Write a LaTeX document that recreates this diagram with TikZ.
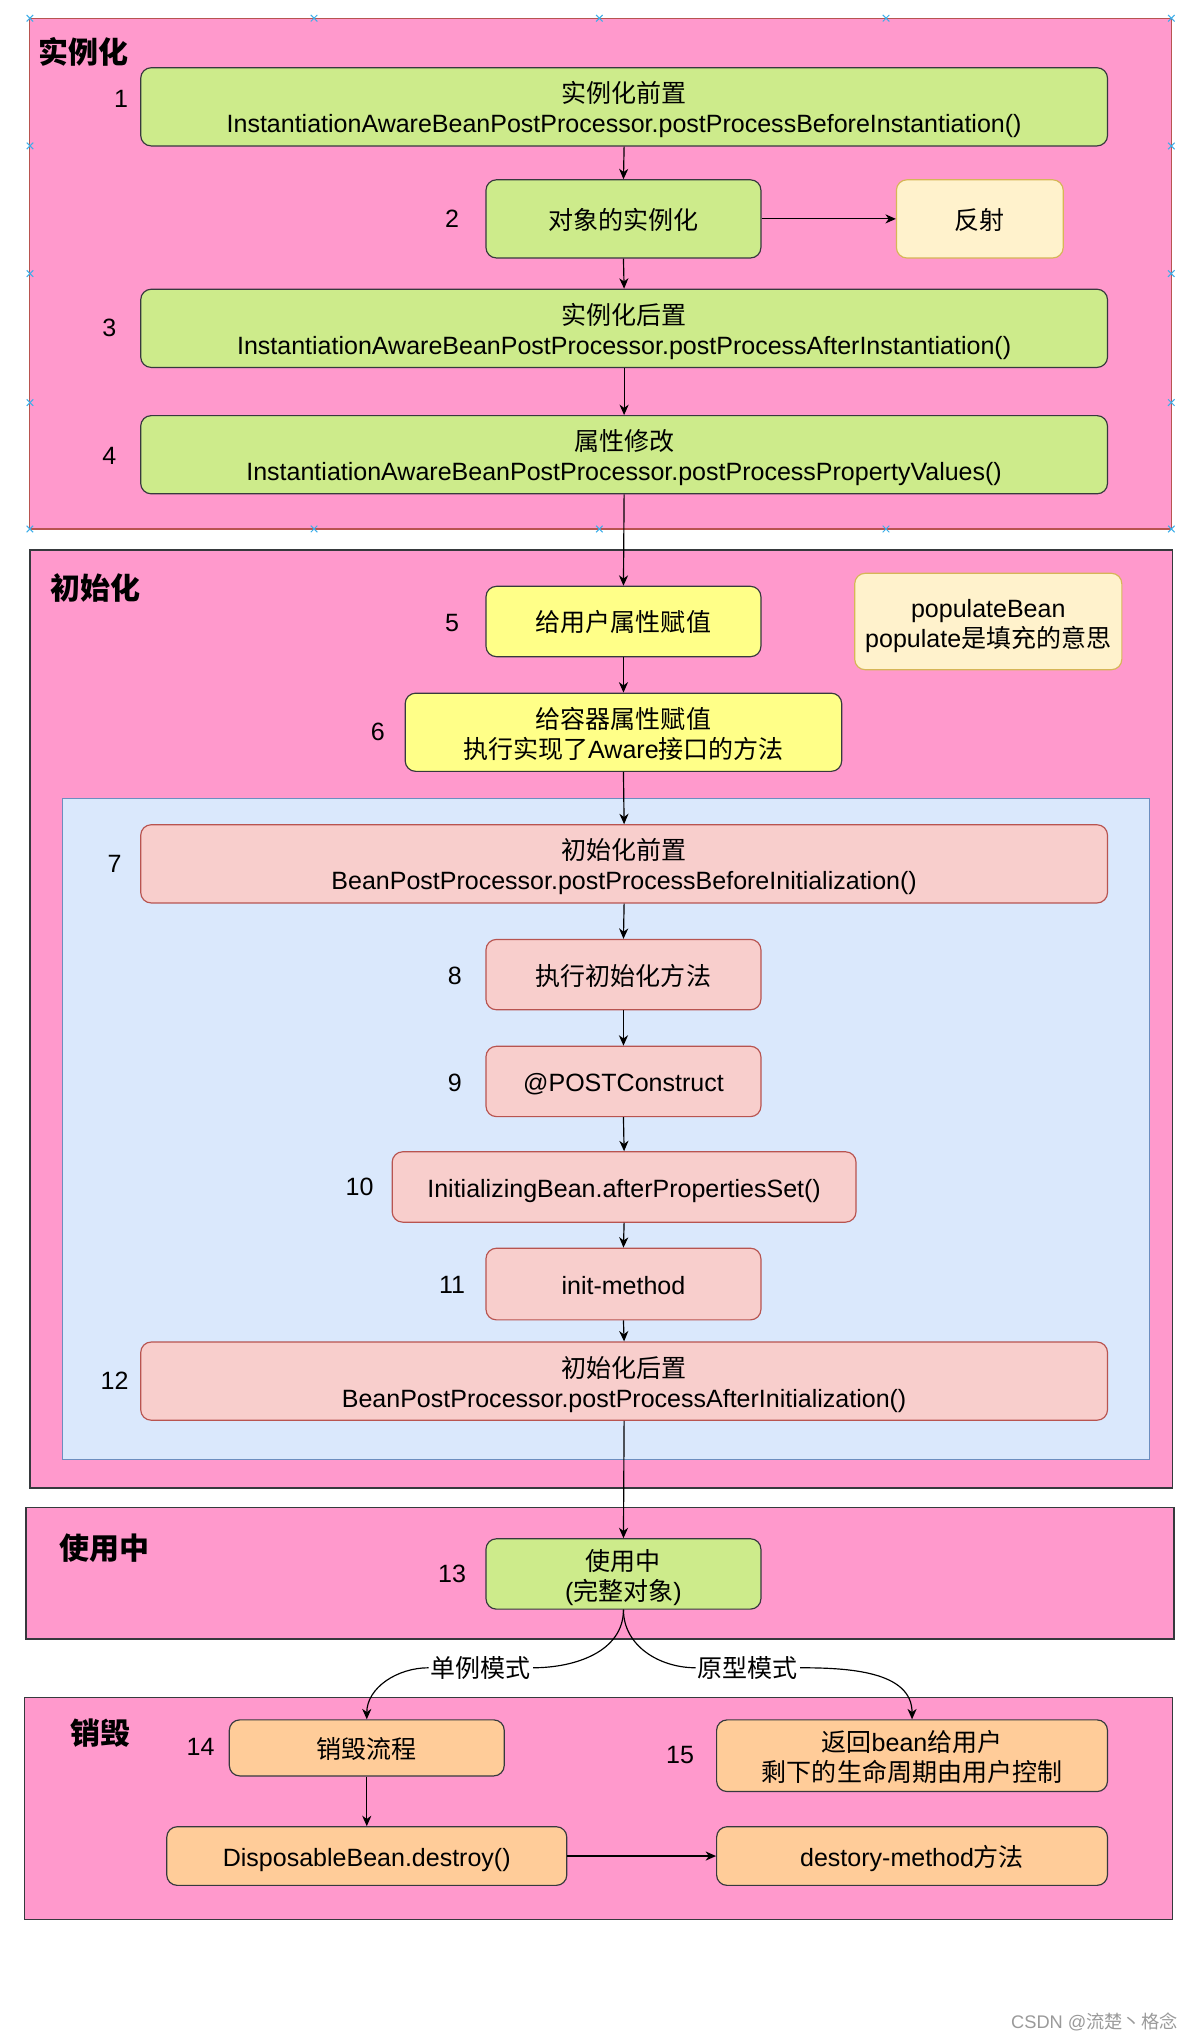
\documentclass[tikz,border=0pt]{standalone}
\usepackage{fontspec}
\setmainfont{Liberation Sans}
\newfontfamily\cjk{Noto Sans CJK SC}
\usetikzlibrary{arrows.meta}
\definecolor{pinkbg}{HTML}{FF99CC}
\definecolor{redstroke}{HTML}{B85450}
\definecolor{darkstroke}{HTML}{36393D}
\definecolor{gfill}{HTML}{CDEB8B}
\definecolor{yfill}{HTML}{FFFF88}
\definecolor{cfill}{HTML}{FFF2CC}
\definecolor{cstroke}{HTML}{D6B656}
\definecolor{rfill}{HTML}{F8CECC}
\definecolor{bfill}{HTML}{DAE8FC}
\definecolor{bstroke}{HTML}{6C8EBF}
\definecolor{ofill}{HTML}{FFCC99}
\definecolor{mkcol}{HTML}{3BAEEA}
\definecolor{wmcol}{HTML}{9A9A9A}
\newcommand\sst{\rule[-4pt]{0pt}{24pt}}
\newcommand\sta{\rule[-4pt]{0pt}{25pt}}
\newcommand\stb{\rule[-4pt]{0pt}{4pt}}
\begin{document}
\begin{tikzpicture}[x=1pt,y=-1pt,
  sz/.style 2 args={minimum width=#1pt,minimum height=#2pt},
  txt/.style={font=\fontsize{19.2}{23}\selectfont},
  nodebase/.style={txt,rounded corners=8pt,inner sep=0pt,align=center,line width=0.9pt},
  gnode/.style={nodebase,fill=gfill,draw=darkstroke},
  ynode/.style={nodebase,fill=yfill,draw=darkstroke},
  cnode/.style={nodebase,fill=cfill,draw=cstroke},
  rnode/.style={nodebase,fill=rfill,draw=redstroke},
  onode/.style={nodebase,fill=ofill,draw=darkstroke},
  region/.style={inner sep=0pt,fill=pinkbg,draw=darkstroke,line width=1.1pt},
  title/.style={font=\cjk\bfseries\fontsize{23}{26}\selectfont,inner sep=0pt},
  num/.style={txt,inner sep=0pt},
  lab/.style={txt,fill=white,inner sep=1.5pt},
  arr/.style={-{Stealth[length=8pt,width=7pt,inset=2.5pt]},line width=0.9pt},
  plain/.style={line width=0.9pt},
  mk/.style={draw=mkcol,line width=0.8pt}
]
\useasboundingbox (0,0) rectangle (919,1568);
\fill[white] (0,0) rectangle (919,1568);

% regions
\node[region,draw=redstroke,line width=0.8pt,sz={876}{392}] (rA) at (461,210) {};
\foreach \x in {23,241,460,680,899}{
  \path[mk] (\x,14) +(-2.5,-2.5) edge +(2.5,2.5) +(-2.5,2.5) edge +(2.5,-2.5);
  \path[mk] (\x,406) +(-2.5,-2.5) edge +(2.5,2.5) +(-2.5,2.5) edge +(2.5,-2.5);
}
\foreach \y in {112,210,309}{
  \path[mk] (23,\y) +(-2.5,-2.5) edge +(2.5,2.5) +(-2.5,2.5) edge +(2.5,-2.5);
  \path[mk] (899,\y) +(-2.5,-2.5) edge +(2.5,2.5) +(-2.5,2.5) edge +(2.5,-2.5);
}
\node[region,sz={877}{720}] (rB) at (461.5,782) {};
\node[inner sep=0pt,fill=bfill,draw=bstroke,line width=1pt,sz={834}{507}] (rBlue) at (465,866.5) {};
\node[region,sz={881}{101}] (rC) at (460.5,1207.5) {};
\node[region,sz={881}{170}] (rD) at (459.5,1388) {};

\node[title] (tA) at (64,40) {实例化};
\node[title] (tB) at (73,451) {初始化};
\node[title] (tC) at (80,1188) {使用中};
\node[title] (tD) at (77,1330) {销毁};

% nodes
\node[gnode,sz={742}{60}] (n1) at (479,82) {\sta{\cjk 实例化前置}\\\stb InstantiationAwareBeanPostProcessor.postProcessBeforeInstantiation()};
\node[gnode,sz={211}{60}] (n2) at (478.5,168) {\sst{\cjk 对象的实例化}};
\node[cnode,sz={128}{60}] (fs) at (752,168) {\sst{\cjk 反射}};
\node[gnode,sz={742}{60}] (n3) at (479,252) {\sta{\cjk 实例化后置}\\\stb InstantiationAwareBeanPostProcessor.postProcessAfterInstantiation()};
\node[gnode,sz={742}{60}] (n4) at (479,349) {\sta{\cjk 属性修改}\\\stb InstantiationAwareBeanPostProcessor.postProcessPropertyValues()};
\node[ynode,sz={211}{54}] (n5) at (478.5,477) {\sst{\cjk 给用户属性赋值}};
\node[cnode,sz={205}{74}] (pop) at (758.5,477) {\sta populateBean\\\stb populate{\cjk 是填充的意思}};
\node[ynode,sz={335}{60}] (n6) at (478.5,562) {\sta{\cjk 给容器属性赋值}\\\stb{\cjk 执行实现了}Aware{\cjk 接口的方法}};
\node[rnode,sz={742}{60}] (n7) at (479,663) {\sta{\cjk 初始化前置}\\\stb BeanPostProcessor.postProcessBeforeInitialization()};
\node[rnode,sz={211}{54}] (n8) at (478.5,748) {\sst{\cjk 执行初始化方法}};
\node[rnode,sz={211}{54}] (n9) at (478.5,830) {\sst @POSTConstruct};
\node[rnode,sz={356}{54}] (n10) at (479,911) {\sst InitializingBean.afterPropertiesSet()};
\node[rnode,sz={211}{55}] (n11) at (478.5,985.5) {\sst init-method};
\node[rnode,sz={742}{60}] (n12) at (479,1060) {\sta{\cjk 初始化后置}\\\stb BeanPostProcessor.postProcessAfterInitialization()};
\node[gnode,sz={211}{54}] (n13) at (478.5,1208) {\sta{\cjk 使用中}\\\stb({\cjk 完整对象})};
\node[onode,sz={211}{43}] (n14) at (281.5,1341.5) {\sst{\cjk 销毁流程}};
\node[onode,sz={300}{55}] (n15) at (700,1347.5) {\sta{\cjk 返回}bean{\cjk 给用户}\\\stb{\cjk 剩下的生命周期由用户控制}};
\node[onode,sz={307}{45}] (dis) at (281.5,1424.5) {\sst DisposableBean.destroy()};
\node[onode,sz={300}{45}] (dm) at (700,1424.5) {\sst destory-method{\cjk 方法}};

% step numbers
\node[num] (k1) at (93,76) {1};
\node[num] (k2) at (347,168) {2};
\node[num] (k3) at (84,252) {3};
\node[num] (k4) at (84,350) {4};
\node[num] (k5) at (347,478) {5};
\node[num] (k6) at (290,562) {6};
\node[num] (k7) at (88,663) {7};
\node[num] (k8) at (349,749) {8};
\node[num] (k9) at (349,831) {9};
\node[num] (k10) at (276,911) {10};
\node[num] (k11) at (347,986) {11};
\node[num] (k12) at (88,1060) {12};
\node[num] (k13) at (347,1208) {13};
\node[num] (k14) at (154,1341) {14};
\node[num] (k15) at (522,1347) {15};

% edges
\draw[arr] (n1.south) -- (n2.north);
\draw[arr] (n2.east) -- (fs.west);
\draw[arr] (n2.south) -- (n3.north);
\draw[arr] (n3.south) -- (n4.north);
\draw[arr] (n4.south) -- (n5.north);
\draw[arr] (n5.south) -- (n6.north);
\draw[arr] (n6.south) -- (n7.north);
\draw[arr] (n7.south) -- (n8.north);
\draw[arr] (n8.south) -- (n9.north);
\draw[arr] (n9.south) -- (n10.north);
\draw[arr] (n10.south) -- (n11.north);
\draw[arr] (n11.south) -- (n12.north);
\draw[arr] (n12.south) -- (n13.north);
\draw[arr] (n14.south) -- (dis.north);
\draw[arr] (dis.east) -- (dm.west);

\node[lab] (l1) at (369,1280) {\cjk 单例模式};
\node[lab] (l2) at (574,1280) {\cjk 原型模式};
\draw[plain] (n13.south) to[out=-90,in=0] (l1.east);
\draw[arr] (l1.west) to[out=180,in=90] (n14.north);
\draw[plain] (n13.south) to[out=-90,in=180] (l2.west);
\draw[arr] (l2.east) to[out=0,in=90] (n15.north);

\node[font=\fontsize{14}{16}\selectfont,text=wmcol,inner sep=0pt] (wm) at (840,1552) {CSDN @{\cjk 流楚丶格念}};
\end{tikzpicture}
\end{document}
